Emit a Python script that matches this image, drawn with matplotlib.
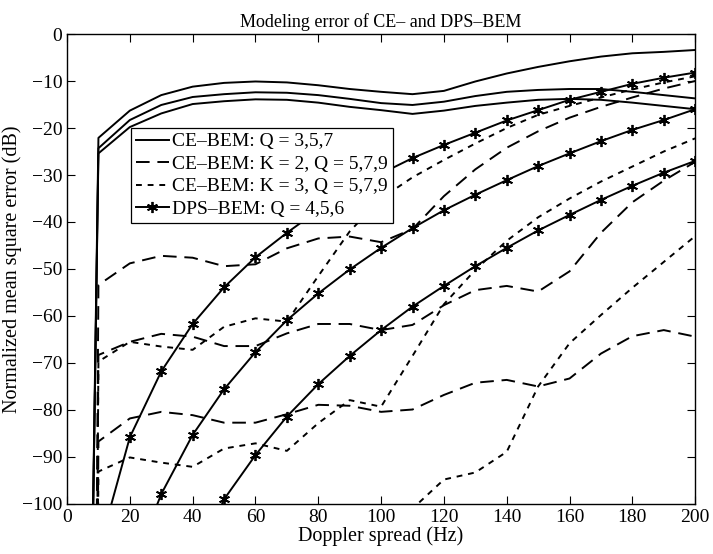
import numpy as np
import matplotlib
matplotlib.use("Agg")
import matplotlib.pyplot as plt

plt.rcParams['font.family'] = ['Liberation Serif', 'DejaVu Serif']

nan = np.nan
doppler = np.arange(0, 201, 10)

# CE-BEM, Q = 3,5,7 (solid)
ce_q = [
    [-480, -22.1, -16.3, -13.0, -11.2, -10.4, -10.1, -10.3, -10.9, -11.7, -12.3,
     -12.8, -12.1, -10.1, -8.4, -7.0, -5.8, -4.8, -4.1, -3.8, -3.4],
    [-480, -24.3, -18.3, -15.1, -13.4, -12.8, -12.4, -12.5, -13.0, -13.8, -14.7,
     -15.1, -14.4, -13.2, -12.3, -11.9, -11.7, -11.7, -12.3, -13.0, -13.7],
    [-480, -25.4, -19.8, -16.9, -14.9, -14.3, -13.9, -14.0, -14.6, -15.5, -16.2,
     -17.0, -16.3, -15.3, -14.6, -14.0, -13.8, -14.0, -14.6, -15.3, -16.0],
]
# CE-BEM, K = 2, Q = 5,7,9 (dashed)
ce_k2 = [
    [-1000, -53.4, -48.8, -47.2, -47.6, -49.4, -49.0, -45.6, -43.5, -43.1, -44.3,
     -41.5, -34.5, -28.8, -24.2, -20.7, -17.8, -15.5, -13.5, -11.6, -10.0],
    [-1000, -68.3, -65.5, -63.8, -64.4, -66.4, -66.4, -63.7, -61.7, -61.7, -63.0,
     -61.9, -57.7, -54.5, -53.6, -54.8, -50.5, -42.3, -35.8, -31.2, -27.2],
    [-1000, -86.7, -81.8, -80.4, -81.1, -82.7, -82.7, -80.9, -78.9, -79.1, -80.4,
     -79.9, -76.8, -74.2, -73.6, -75.0, -73.3, -68.0, -64.3, -63.0, -64.4],
]
# CE-BEM, K = 3, Q = 5,7,9 (dotted)
ce_k3 = [
    [-1000, -69.7, -65.5, -66.5, -67.2, -62.3, -60.5, -61.2, -51.5, -42.0, -35.0,
     -30.5, -26.8, -23.3, -20.0, -17.2, -15.3, -13.5, -11.8, -10.3, -9.0],
    [-1000, -93.1, -90.1, -91.2, -92.1, -88.2, -87.1, -88.7, -82.8, -77.9, -79.3,
     -68.5, -57.5, -50.2, -44.0, -39.0, -35.0, -31.4, -28.2, -25.0, -22.2],
    [nan, nan, nan, nan, nan, nan, nan, nan, nan, nan, -120,
     -101, -94.8, -93.3, -88.9, -75.0, -65.8, -59.8, -54.0, -48.5, -43.0],
]
# DPS-BEM, Q = 4,5,6
dps = [
    [nan, -110, -85.8, -71.8, -61.7, -53.9, -47.5, -42.3, -37.5, -33.4, -29.7,
     -26.4, -23.6, -21.0, -18.4, -16.2, -14.0, -12.3, -10.6, -9.3, -8.2],
    [nan, -140, -115, -97.9, -85.3, -75.6, -67.7, -60.9, -55.2, -50.1, -45.5,
     -41.3, -37.5, -34.2, -31.1, -28.1, -25.4, -22.8, -20.4, -18.3, -16.0],
    [nan, nan, -160, -135, -115, -99.0, -89.6, -81.4, -74.5, -68.5, -63.0,
     -58.0, -53.6, -49.4, -45.5, -41.8, -38.5, -35.3, -32.3, -29.5, -27.0],
]
labels = ['CE\u2013BEM: Q = 3,5,7', 'CE\u2013BEM: K = 2, Q = 5,7,9',
          'CE\u2013BEM: K = 3, Q = 5,7,9', 'DPS\u2013BEM: Q = 4,5,6']

fig = plt.figure(figsize=(7.13, 5.54), dpi=100)
ax = fig.add_axes([0.094, 0.0903, 0.881, 0.8483])

lw = 1.4
for i, y in enumerate(ce_q):
    ax.plot(doppler, y, color='black', lw=lw, label=labels[0] if i == 0 else None)
for i, y in enumerate(ce_k2):
    ax.plot(doppler, y, color='black', lw=lw, dashes=(7, 4),
            label=labels[1] if i == 0 else None)
for i, y in enumerate(ce_k3):
    ax.plot(doppler, y, color='black', lw=lw, dashes=(3, 3),
            label=labels[2] if i == 0 else None)
for i, y in enumerate(dps):
    ax.plot(doppler, y, color='black', lw=lw, marker=(6, 2, 0), ms=8, mew=1.3,
            label=labels[3] if i == 0 else None)

ax.set_xlim(0, 200)
ax.set_ylim(-100, 0)
ax.set_xticks(np.arange(0, 201, 20))
ax.set_yticks(np.arange(-100, 1, 10))
ax.tick_params(direction='in', top=True, right=True, length=6, labelsize=14)
for s in ax.spines.values():
    s.set_linewidth(1.0)

ax.set_title('Modeling error of CE\u2013 and DPS\u2013BEM', fontsize=13, pad=5)
ax.set_xlabel('Doppler spread (Hz)', fontsize=14.5, labelpad=0)
ax.set_ylabel('Normalized mean square error (dB)', fontsize=14.5, labelpad=0)

leg = ax.legend(loc='upper left', bbox_to_anchor=(0.102, 0.8), fontsize=14,
                fancybox=False, framealpha=1, edgecolor='black', borderpad=0.25,
                labelspacing=0.25, handlelength=1.7, handletextpad=0.15,
                borderaxespad=0)
leg.get_frame().set_linewidth(0.9)

fig.savefig('out.png', dpi=100)
